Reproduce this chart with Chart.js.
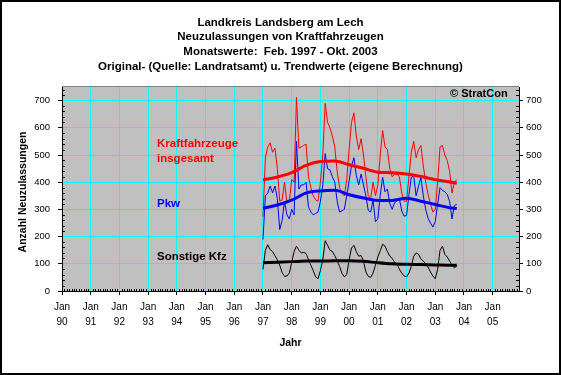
<!DOCTYPE html>
<html>
<head>
<meta charset="utf-8">
<script src="https://cdn.jsdelivr.net/npm/chart.js@4"></script>
<style>
  html, body { margin: 0; padding: 0; background: #fff; }
</style>
</head>
<body>
<canvas id="chart" width="561" height="375"></canvas>
<script>
// Monate seit Jan 1990; erster Wert = Jan 97 (Position im Bild)
const firstMonth = 84;

// Kraftfahrzeuge insgesamt (Monatswerte)
const kfz = [
  273, 490, 530, 545, 510, 525, 450, 330, 335, 400, 325, 330,   // 1997
  410, 400, 712, 525, 530, 535, 540, 420, 380, 350, 335, 330,   // 1998
  400, 500, 690, 620, 600, 570, 530, 440, 380, 360, 350, 410,   // 1999
  520, 620, 655, 570, 520, 560, 500, 420, 350, 340, 400, 350,   // 2000
  390, 500, 590, 530, 520, 450, 420, 430, 430, 420, 360, 330,   // 2001
  330, 420, 510, 550, 490, 520, 535, 460, 400, 355, 320, 290,   // 2002
  300, 400, 530, 535, 500, 480, 440, 360, 400, 410              // 2003
];
// Pkw
const pkw = [
  189, 350, 360, 386, 361, 386, 340, 226, 260, 330, 280, 265,
  300, 280, 550, 375, 390, 390, 400, 310, 290, 280, 285, 290,
  330, 390, 505, 450, 445, 420, 400, 330, 290, 295, 300, 350,
  405, 460, 490, 425, 390, 430, 390, 350, 296, 290, 334, 255,
  265, 352, 418, 365, 375, 322, 300, 325, 330, 340, 294, 275,
  278, 354, 419, 422, 350, 385, 417, 350, 300, 267, 250, 235,
  255, 320, 380, 370, 365, 355, 330, 265, 315, 318
];
// Sonstige Kfz
const sonstige = [
  79, 150, 170, 152, 145, 130, 115, 95, 68, 54, 55, 66,
  105, 145, 165, 150, 140, 142, 138, 115, 95, 75, 52, 45,
  75, 115, 185, 168, 150, 145, 130, 112, 90, 65, 52, 60,
  115, 158, 168, 145, 128, 130, 110, 70, 54, 50, 66, 95,
  125, 148, 172, 165, 145, 128, 120, 105, 100, 80, 66, 55,
  52, 66, 91, 128, 140, 135, 118, 110, 100, 88, 70, 55,
  45, 80, 150, 165, 135, 125, 110, 95, 85, 92
];

const trendMonths = [84, 90, 96, 102, 108, 114, 120, 126, 132, 138, 144, 150, 156, 162, 165];
const kfzTrend = [408, 419, 435, 462, 476, 478, 464, 451, 437, 435, 430, 421, 409, 401, 396];
const pkwTrend = [304, 316, 334, 360, 368, 370, 354, 342, 333, 333, 341, 330, 318, 306, 303];
const sonstTrend = [104, 106, 108, 110, 110, 111, 111, 109, 104, 100, 98, 97, 96, 95, 95];

const yearLabels = ['90', '91', '92', '93', '94', '95', '96', '97', '98', '99', '00', '01', '02', '03', '04', '05'];
const yTicks = [0, 100, 200, 300, 400, 500, 600, 700];

const titleLines = [
  'Landkreis Landsberg am Lech',
  'Neuzulassungen von Kraftfahrzeugen',
  'Monatswerte:  Feb. 1997 - Okt. 2003',
  'Original- (Quelle: Landratsamt) u. Trendwerte (eigene Berechnung)'
];

const FONT = "'Liberation Sans', Arial, sans-serif";

const monthly = vals => vals.map((v, i) => ({ x: firstMonth + i, y: v }));
const trend = vals => vals.map((v, i) => ({ x: trendMonths[i], y: v }));

// Hintergrund, Nebenstriche und Texte
const decoPlugin = {
  id: 'deco',
  beforeDraw(chart) {
    const { ctx, chartArea: a } = chart;
    ctx.save();
    ctx.fillStyle = '#fff';
    ctx.fillRect(0, 0, chart.width, chart.height);
    ctx.fillStyle = '#c0c0c0';
    ctx.fillRect(a.left, a.top, a.right - a.left, a.bottom - a.top);
    ctx.restore();
  },
  afterDraw(chart) {
    const { ctx, chartArea: a, scales } = chart;
    ctx.save();

    // obere Rahmenlinie
    ctx.strokeStyle = '#808080';
    ctx.lineWidth = 1;
    ctx.beginPath();
    ctx.moveTo(a.left, a.top - 0.5);
    ctx.lineTo(a.right, a.top - 0.5);
    ctx.stroke();

    // Nebenstriche
    ctx.strokeStyle = '#000';
    ctx.beginPath();
    for (let m = 1; m < 191; m++) {
      if (m % 12 === 0) continue;
      const x = Math.round(scales.x.getPixelForValue(m)) + 0.5;
      ctx.moveTo(x, a.bottom);
      ctx.lineTo(x, a.bottom - 2);
    }
    for (let v = 20; v < 750; v += 20) {
      if (v % 100 === 0) continue;
      const y = Math.round(scales.y.getPixelForValue(v)) + 0.5;
      ctx.moveTo(a.left, y);
      ctx.lineTo(a.left + 3, y);
      ctx.moveTo(a.right, y);
      ctx.lineTo(a.right - 3, y);
    }
    ctx.stroke();

    // Titel
    ctx.fillStyle = '#000';
    ctx.textAlign = 'center';
    ctx.textBaseline = 'middle';
    ctx.font = 'bold 11.5px ' + FONT;
    const titleY = [23, 37, 52, 67];
    titleLines.forEach((t, i) => ctx.fillText(t, 280.5, titleY[i]));

    // Achsentitel
    ctx.font = 'bold 10.5px ' + FONT;
    ctx.fillText('Jahr', (a.left + a.right) / 2, 343);
    ctx.save();
    ctx.translate(23, (a.top + a.bottom) / 2 + 3);
    ctx.rotate(-Math.PI / 2);
    ctx.fillText('Anzahl Neuzulassungen', 0, 0);
    ctx.restore();

    // Beschriftungen im Diagramm
    ctx.textAlign = 'left';
    ctx.font = 'bold 11px ' + FONT;
    ctx.fillText('\u00A9 StratCon', 450, 94);
    ctx.font = 'bold 11.5px ' + FONT;
    ctx.fillStyle = '#ff0000';
    ctx.fillText('Kraftfahrzeuge', 157, 144);
    ctx.fillText('insgesamt', 157, 159);
    ctx.fillStyle = '#0000ff';
    ctx.fillText('Pkw', 157, 204);
    ctx.fillStyle = '#000';
    ctx.fillText('Sonstige Kfz', 157, 257);

    // Aussenrahmen
    ctx.strokeStyle = '#000';
    ctx.lineWidth = 2;
    ctx.strokeRect(1, 1, chart.width - 2, chart.height - 2);
    ctx.restore();
  }
};

const tickFont = { family: FONT, size: 9.5 };
const setYTicks = s => { s.ticks = yTicks.map(v => ({ value: v })); };

new Chart(document.getElementById('chart').getContext('2d'), {
  type: 'line',
  data: {
    datasets: [
      { label: 'Kfz Trend', data: trend(kfzTrend), borderColor: '#ff0000', borderWidth: 3, cubicInterpolationMode: 'monotone' },
      { label: 'Pkw Trend', data: trend(pkwTrend), borderColor: '#0000ff', borderWidth: 3, cubicInterpolationMode: 'monotone' },
      { label: 'Sonstige Trend', data: trend(sonstTrend), borderColor: '#000000', borderWidth: 3, cubicInterpolationMode: 'monotone' },
      { label: 'Sonstige Kfz', data: monthly(sonstige), borderColor: '#000000', borderWidth: 1 },
      { label: 'Pkw', data: monthly(pkw), borderColor: '#0000ff', borderWidth: 1 },
      { label: 'Kraftfahrzeuge insgesamt', data: monthly(kfz), borderColor: '#ff0000', borderWidth: 1 }
    ]
  },
  options: {
    responsive: false,
    animation: false,
    devicePixelRatio: 1,
    layout: { padding: { top: 87, left: 0, right: 0, bottom: 0 } },
    elements: {
      point: { radius: 0 },
      line: { tension: 0, fill: false }
    },
    plugins: {
      legend: { display: false },
      title: { display: false },
      tooltip: { enabled: false }
    },
    scales: {
      x: {
        type: 'linear',
        min: 0,
        max: 191,
        afterFit: s => { s.height = 84; },
        afterBuildTicks: s => { s.ticks = yearLabels.map((_, i) => ({ value: i * 12 })); },
        ticks: {
          autoSkip: false,
          maxRotation: 0,
          padding: 5,
          color: '#000',
          font: { family: FONT, size: 10, lineHeight: 1.5 },
          callback: v => ['Jan', yearLabels[Math.round(v / 12)]]
        },
        grid: { color: '#00ffff', tickColor: '#000', tickLength: 4 },
        border: { color: '#000' }
      },
      y: {
        position: 'left',
        min: 0,
        max: 750,
        afterFit: s => { s.width = 62; },
        afterBuildTicks: setYTicks,
        ticks: { padding: 8, color: '#000', font: tickFont },
        grid: { color: '#00ffff', tickColor: '#000', tickLength: 4 },
        border: { color: '#000' }
      },
      y2: {
        position: 'right',
        min: 0,
        max: 750,
        afterFit: s => { s.width = 42; },
        afterBuildTicks: setYTicks,
        ticks: { padding: 3, color: '#000', font: tickFont },
        grid: { drawOnChartArea: false, tickColor: '#000', tickLength: 4 },
        border: { color: '#000' }
      }
    }
  },
  plugins: [decoPlugin]
});
</script>
</body>
</html>
